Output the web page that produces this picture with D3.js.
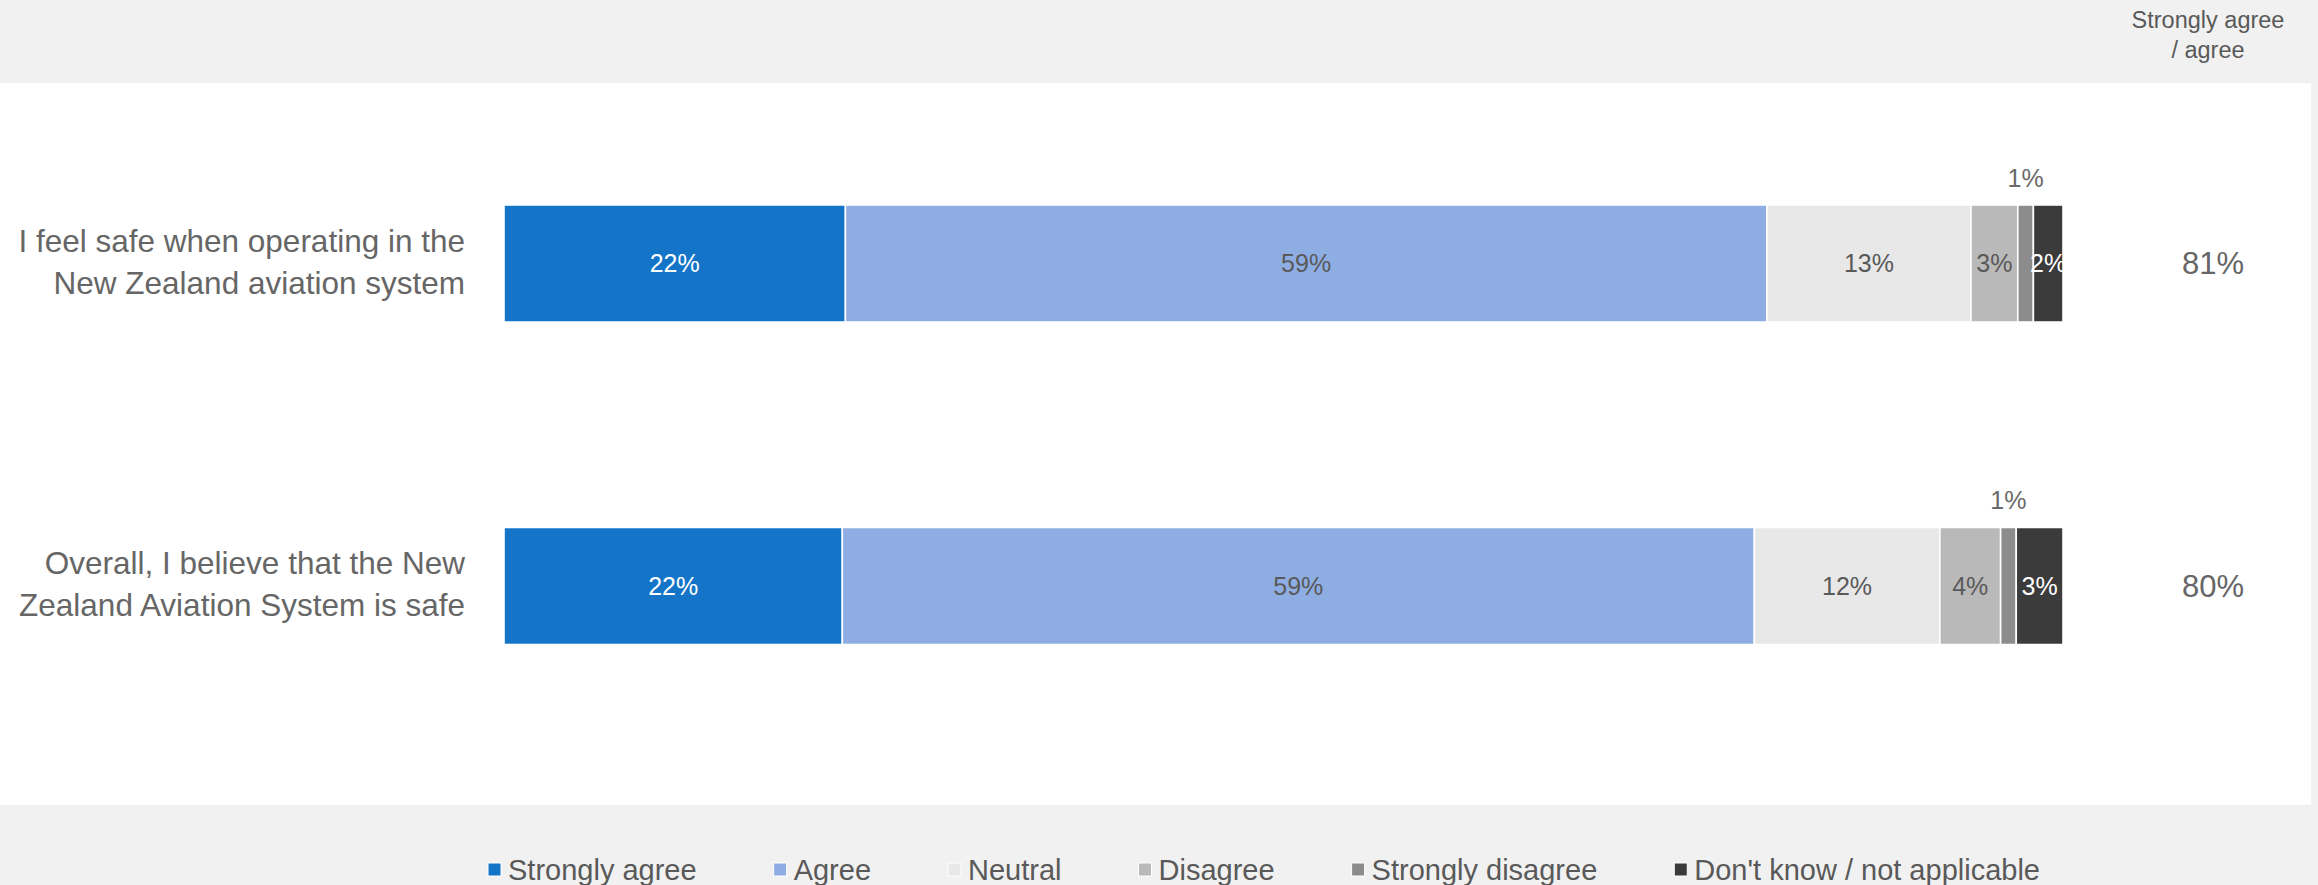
<!DOCTYPE html>
<html>
<head>
<meta charset="utf-8">
<script src="https://cdn.jsdelivr.net/npm/d3@7"></script>
<style>
  body { margin: 0; background: #f1f1f1; }
  svg { display: block; font-family: 'Liberation Sans', Arial, sans-serif; }
</style>
</head>
<body>
<div id="chart"></div>
<script>
const categories = [
  ['I feel safe when operating in the', 'New Zealand aviation system'],
  ['Overall, I believe that the New', 'Zealand Aviation System is safe'],
];
const seriesNames = ['Strongly agree', 'Agree', 'Neutral', 'Disagree', 'Strongly disagree', "Don't know / not applicable"];
const stronglyAgree = [21.9, 21.7];
const agree = [59.1, 58.5];
const neutral = [13.1, 11.9];
const disagree = [3.0, 3.9];
const stronglyDisagree = [1.0, 1.0];
const dontKnow = [1.9, 3.0];
const topTwo = [81, 80];
const topTwoTitle = ['Strongly agree', '/ agree'];

const colors = ['#1475c8', '#8eade3', '#e8e8e8', '#b9b9b9', '#8c8c8c', '#3b3b3b'];
const labelColors = ['#fff', '#595959', '#595959', '#595959', '#595959', '#fff'];

const width = 2318;
const height = 885;

const rows = categories.map((c, i) => ({
  key: i,
  'Strongly agree': stronglyAgree[i],
  'Agree': agree[i],
  'Neutral': neutral[i],
  'Disagree': disagree[i],
  'Strongly disagree': stronglyDisagree[i],
  "Don't know / not applicable": dontKnow[i],
}));

const stacked = d3.stack().keys(seriesNames)(rows);

const svg = d3
  .select('#chart')
  .append('svg')
  .attr('width', width)
  .attr('height', height);

// white panel
svg.append('rect')
  .attr('x', 0)
  .attr('y', 83)
  .attr('width', 2311)
  .attr('height', 722)
  .attr('fill', '#fff');

const xScale = d3.scaleLinear().domain([0, 100]).range([504, 2063]);
const yScale = d3.scaleBand()
  .domain(d3.range(categories.length))
  .range([156.6, 692.9])
  .paddingInner(0.637)
  .paddingOuter(0.15);

svg.append('clipPath')
  .attr('id', 'plotclip')
  .append('rect')
  .attr('x', xScale(0))
  .attr('y', 83)
  .attr('width', xScale(100) - xScale(0))
  .attr('height', 722);

const series = svg.selectAll('g.series')
  .data(stacked)
  .enter()
  .append('g')
  .attr('class', 'series');

series.selectAll('rect')
  .data(d => d)
  .enter()
  .append('rect')
  .attr('x', d => xScale(d[0]))
  .attr('y', (d, i) => yScale(i))
  .attr('width', d => xScale(d[1]) - xScale(d[0]))
  .attr('height', yScale.bandwidth())
  .attr('fill', function () { return colors[seriesNames.indexOf(d3.select(this.parentNode).datum().key)]; })
  .attr('stroke', '#fff')
  .attr('stroke-width', 1.6);
// <-- bars end -->

const labelGroup = svg.append('g').attr('clip-path', 'url(#plotclip)');
stacked.forEach((s, si) => {
  const above = s.key === 'Strongly disagree';
  labelGroup.selectAll(null)
    .data(s)
    .enter()
    .append('text')
    .attr('x', d => xScale((d[0] + d[1]) / 2))
    .attr('y', (d, i) => above ? yScale(i) - 27 : yScale(i) + yScale.bandwidth() / 2)
    .attr('dy', '0.35em')
    .attr('text-anchor', 'middle')
    .attr('font-size', 25)
    .attr('fill', above ? '#6a6a6a' : labelColors[si])
    .text(d => Math.round(d[1] - d[0]) + '%');
});
// <-- labels end -->

svg.selectAll('text.cat')
  .data(categories)
  .enter()
  .append('text')
  .attr('class', 'cat')
  .attr('text-anchor', 'end')
  .attr('font-size', 31.5)
  .attr('fill', '#666')
  .each(function (lines, i) {
    const cy = yScale(i) + yScale.bandwidth() / 2;
    d3.select(this).selectAll('tspan')
      .data(lines)
      .enter()
      .append('tspan')
      .attr('x', 465)
      .attr('y', (l, j) => cy - 12 + j * 42)
      .text(l => l);
  });

svg.selectAll('text.total')
  .data(topTwo)
  .enter()
  .append('text')
  .attr('class', 'total')
  .attr('x', 2213)
  .attr('y', (d, i) => yScale(i) + yScale.bandwidth() / 2)
  .attr('dy', '0.35em')
  .attr('text-anchor', 'middle')
  .attr('font-size', 31)
  .attr('fill', '#666')
  .text(d => d + '%');

svg.append('text')
  .attr('text-anchor', 'middle')
  .attr('font-size', 23.5)
  .attr('fill', '#595959')
  .selectAll('tspan')
  .data(topTwoTitle)
  .enter()
  .append('tspan')
  .attr('x', 2208)
  .attr('y', (d, i) => 28 + i * 30)
  .text(d => d);

// legend
const legend = svg.append('g');
const items = legend.selectAll('g')
  .data(seriesNames)
  .enter()
  .append('g');
items.append('rect')
  .attr('width', 13)
  .attr('height', 13)
  .attr('y', 863)
  .attr('fill', (d, i) => colors[i])
  .attr('stroke', '#fff')
  .attr('stroke-width', 1);
items.append('text')
  .attr('x', 20)
  .attr('y', 870)
  .attr('dy', '0.35em')
  .attr('font-size', 29)
  .attr('fill', '#595959')
  .text(d => d);
let pos = 0;
const offsets = [];
items.each(function () {
  offsets.push(pos);
  pos += 20 + d3.select(this).select('text').node().getComputedTextLength() + 77;
});
const total = pos - 77;
const startX = 1264 - total / 2;
items.attr('transform', (d, i) => `translate(${startX + offsets[i]}, 0)`);
</script>
</body>
</html>
